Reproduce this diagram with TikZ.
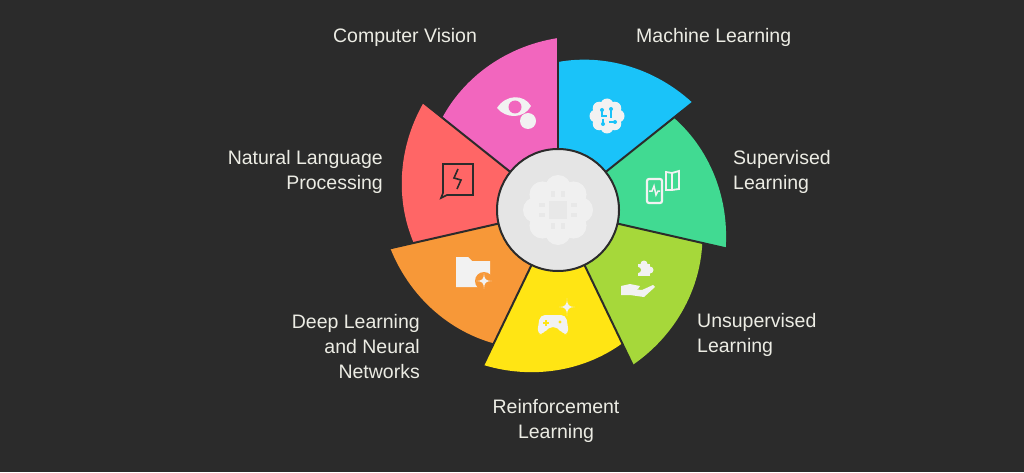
\documentclass[tikz,border=0pt]{standalone}
\usepackage{fontspec}
\setmainfont{Liberation Sans}
\begin{document}
\begin{tikzpicture}[x=1pt,y=1pt,
  lbl/.style={text=lbltext,font=\fontsize{19.5}{25}\selectfont,inner sep=0pt},
  sep/.style={draw=bg,line width=2pt},
  ic/.style={fill=white!95!black,draw=none}]
\definecolor{bg}{HTML}{2B2B2B}
\definecolor{lbltext}{HTML}{ECECE4}
\definecolor{cB}{HTML}{1AC3F9}
\definecolor{cG}{HTML}{41DA92}
\definecolor{cL}{HTML}{A6D83A}
\definecolor{cY}{HTML}{FFE514}
\definecolor{cO}{HTML}{F79838}
\definecolor{cR}{HTML}{FF6666}
\definecolor{cP}{HTML}{F266BE}
\fill[bg] (0,0) rectangle (1024,472);
\useasboundingbox (0,0) rectangle (1024,472);
\coordinate (c) at (558,262);
\foreach \a/\col in {90/cB,38.57/cG,-12.86/cL,-64.29/cY,-115.71/cO,-167.14/cR,141.43/cP}{
  \fill[\col,shift={(c)}] (0,0) -- plot[domain=0:51.43,samples=30,variable=\t] ({\a-\t}:{148+24*\t/51.43}) -- cycle;
}
\foreach \a in {90,38.57,-12.86,-64.29,-115.71,-167.14,141.43}{
  \draw[sep,shift={(c)}] (0,0) -- (\a:175);
}
\node[circle,draw=bg,line width=2pt,fill=white!90!black,minimum size=122pt] (hub) at (c) {};
\begin{scope}[shift={(c)},white!94!black]
  \foreach \q in {0,45,...,315}{\fill (\q:22) circle (13);}
  \fill circle (26);
  \fill[white!91!black] (-9,-9) rectangle (9,9);
  \foreach \s in {-5,5}{
    \fill[white!91!black] (\s-2,13) rectangle (\s+2,19);
    \fill[white!91!black] (\s-2,-19) rectangle (\s+2,-13);
    \fill[white!91!black] (13,\s-2) rectangle (19,\s+2);
    \fill[white!91!black] (-19,\s-2) rectangle (-13,\s+2);}
\end{scope}
\begin{scope}[shift={(607,356)}]
  \foreach \q in {0,45,...,315}{\fill[ic] (\q:11) circle (6.5);}
  \fill[ic] circle (13);
  \draw[cB,line width=1.5pt] (-5,6)--(-5,0)--(0,0) (4,7)--(4,-2) (-4,-3)--(-4,-8) (2,-6)--(8,-6);
  \fill[cB] (4,7) circle (2) (-5,6) circle (2) (-4,-8) circle (2) (8,-6) circle (2);
\end{scope}
\begin{scope}[shift={(515,362)}]
  \fill[ic] (-18,2) .. controls (-9,16) and (9,16) .. (16,4) .. controls (9,-9) and (-9,-9) .. (-18,2) -- cycle;
  \fill[cP] (0,3) circle (6.5);
  \fill[ic] (13,-11) circle (8);
\end{scope}
\begin{scope}[shift={(457,290)},line width=1.6pt]
  \draw[bg] (-16,-16) -- (-14,-11) -- (-14,18) -- (16,18) -- (16,-13) -- (-10,-13) -- cycle;
  \draw[bg] (1,13) -- (-3,4) -- (4,2) -- (0,-7);
\end{scope}
\begin{scope}[shift={(473,200)}]
  \fill[ic] (-17,-15) -- (-17,15) -- (-5,15) -- (-1,11) -- (17,11) -- (17,-15) -- cycle;
  \fill[cO] (11,-9) circle (9);
  \fill[ic] (11,-1) .. controls (11,-7) and (13,-9) .. (19,-9) .. controls (13,-9) and (11,-11) .. (11,-17) .. controls (11,-11) and (9,-9) .. (3,-9) .. controls (9,-9) and (11,-7) .. (11,-1) -- cycle;
\end{scope}
\begin{scope}[shift={(553,150)}]
  \fill[ic,rounded corners=5pt] (-16,-12) -- (-13,7) -- (13,7) -- (16,-12) -- (9,-12) -- (5,-5) -- (-5,-5) -- (-9,-12) -- cycle;
  \draw[cY,line width=1.4pt] (-10,-1)--(-4,-1) (-7,-4)--(-7,2);
  \fill[cY] (7,0) circle (1.7);
  \fill[ic] (14,24) .. controls (14,17) and (16,15) .. (22,15) .. controls (16,15) and (14,13) .. (14,6) .. controls (14,13) and (12,15) .. (6,15) .. controls (12,15) and (14,17) .. (14,24) -- cycle;
\end{scope}
\begin{scope}[shift={(638,190)}]
  \fill[ic] (-17,-13) -- (-17,-4) -- (-8,-2) -- (2,-4) -- (0,-7) -- (-6,-7) -- (4,-8) -- (15,-3) -- (17,-5) -- (6,-15) -- (-8,-13) -- cycle;
  \fill[ic] (0,6) rectangle (12,18);
  \fill[ic] (6,18) circle (3.5) (12,12) circle (3.5);
  \fill[cL] (0,12) circle (3);
\end{scope}
\begin{scope}[shift={(662,284)}]
  \draw[white!95!black,line width=2.2pt,rounded corners=2pt] (-15,-15) rectangle (0,9);
  \draw[white!95!black,line width=1.5pt] (-13,-3) -- (-10,-3) -- (-8,2) -- (-6,-7) -- (-4,-3) -- (-2,-3);
  \draw[white!95!black,line width=1.8pt] (4,-2) -- (4,16) -- (10,15) -- (17,17) -- (17,-1) -- (10,-2) -- cycle (10,15)--(10,-2);
\end{scope}
\node[lbl] (t1) at (405,435) {Computer Vision};
\node[lbl,anchor=west] (t2) at (636,435) {Machine Learning};
\node[lbl,anchor=west,align=left] (t3) at (733,300) {Supervised\\Learning};
\node[lbl,anchor=west,align=left] (t4) at (697,137) {Unsupervised\\Learning};
\node[lbl,align=center] (t5) at (556,51) {Reinforcement\\Learning};
\node[lbl,anchor=east,align=right] (t6) at (420,125) {Deep Learning\\and Neural\\Networks};
\node[lbl,anchor=east,align=right] (t7) at (383,300) {Natural Language\\Processing};
\end{tikzpicture}
\end{document}
